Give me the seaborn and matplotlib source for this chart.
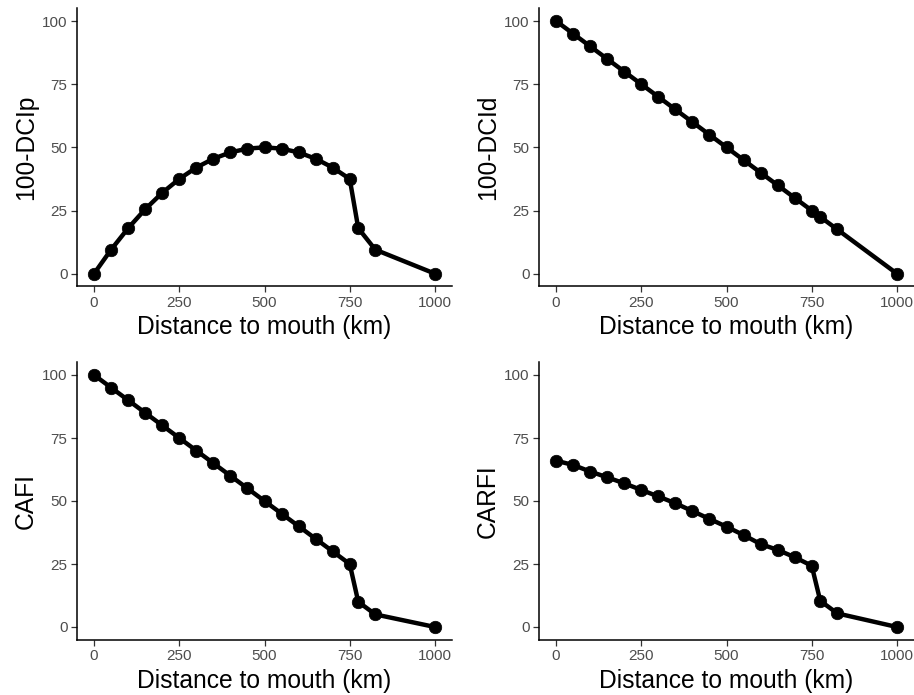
import matplotlib
matplotlib.use("Agg")
import matplotlib.pyplot as plt
import seaborn as sns
import pandas as pd

distance = [0, 50, 100, 150, 200, 250, 300, 350, 400, 450, 500, 550, 600, 650, 700, 750, 775, 825, 1000]
dcip = [0, 9.5, 18, 25.5, 32, 37.5, 42, 45.5, 48, 49.5, 50, 49.5, 48, 45.5, 42, 37.5, 18, 9.5, 0]
dcid = [100, 95, 90, 85, 80, 75, 70, 65, 60, 55, 50, 45, 40, 35, 30, 25, 22.5, 17.5, 0]
cafi = [100, 95, 90, 85, 80, 75, 70, 65, 60, 55, 50, 45, 40, 35, 30, 25, 10, 5, 0]
carfi = [66, 64.3, 61.7, 59.4, 57, 54.4, 51.8, 49.1, 46, 42.9, 39.8, 36.5, 32.9, 30.6, 27.7, 24.3, 10.4, 5.4, 0]

panels = [("100-DCIp", dcip), ("100-DCId", dcid), ("CAFI", cafi), ("CARFI", carfi)]
x_ticks = [0, 250, 500, 750, 1000]
y_ticks = [0, 25, 50, 75, 100]
x_label = "Distance to mouth (km)"

sns.set_theme(style="ticks")
plt.rcParams['font.family'] = ['Liberation Sans', 'DejaVu Sans']

fig = plt.figure(figsize=(9.14, 6.95), dpi=100)
W, H = 914, 695
boxes = [(77, 8.4, 452, 286.3), (539, 8.4, 914, 286.3),
         (77, 362.4, 452, 639.6), (539, 362.4, 914, 639.6)]

for (name, vals), (l, t, r, b) in zip(panels, boxes):
    ax = fig.add_axes([l / W, 1 - b / H, (r - l) / W, (b - t) / H])
    df = pd.DataFrame({"d": distance, "v": vals})
    sns.lineplot(data=df, x="d", y="v", ax=ax, color="black", linewidth=3.2,
                 marker="o", markersize=9, markeredgecolor="black", markeredgewidth=0.5)
    ax.set_xlim(-50, 1050)
    ax.set_ylim(-5, 105)
    ax.set_xticks(x_ticks)
    ax.set_yticks(y_ticks)
    ax.set_xticklabels([str(v) for v in x_ticks])
    ax.set_yticklabels([str(v) for v in y_ticks])
    ax.tick_params(axis="both", labelsize=11, labelcolor="#4D4D4D", color="#333333",
                   length=4.3, width=0.9, pad=2.5)
    ax.set_xlabel(x_label, fontsize=17.7, color="black", labelpad=4)
    ax.set_ylabel(name, fontsize=17.7, color="black", labelpad=3)
    for s in ["top", "right"]:
        ax.spines[s].set_visible(False)
    for s in ["left", "bottom"]:
        ax.spines[s].set_linewidth(1.1)
        ax.spines[s].set_color("black")
    ax.grid(False)

fig.savefig("out.png", dpi=100)
